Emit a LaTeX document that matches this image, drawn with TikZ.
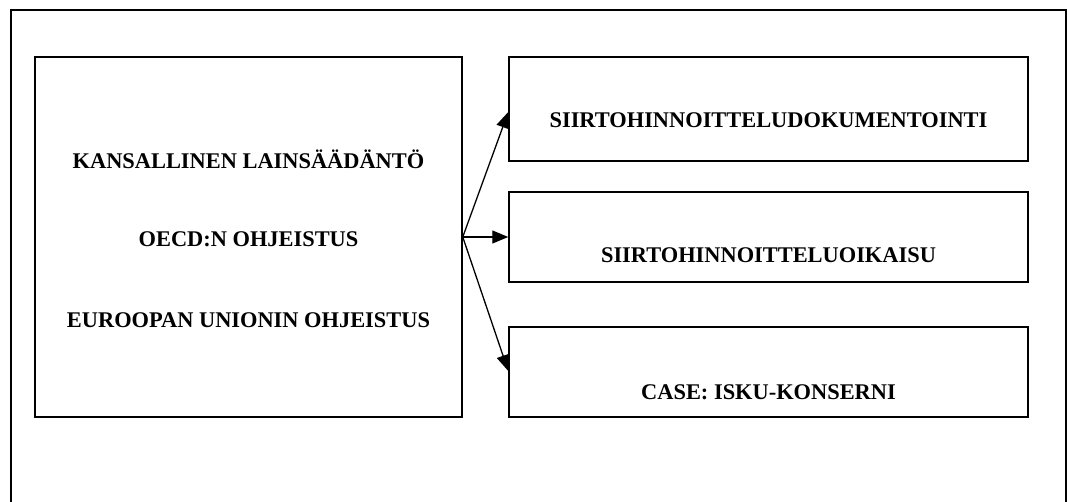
\documentclass[tikz,border=0pt]{standalone}
\usepackage{fontspec}
\setmainfont{Liberation Serif}
\usetikzlibrary{arrows.meta}
\tikzset{
  boxframe/.style={draw, line width=1.5pt, rectangle, inner sep=0pt},
  lbl/.style={anchor=base, inner sep=0pt, font=\fontsize{22.4}{27}\selectfont\bfseries},
  conn/.style={line width=1.3pt, -{Triangle[length=16pt,width=13pt]}},
}
\begin{document}
\begin{tikzpicture}[x=1pt,y=-1pt]
\useasboundingbox (0,0) rectangle (1067,502);
% outer frame (bottom edge lies outside the picture)
\draw[line width=1.5pt] (11,520) -- (11,10) -- (1066,10) -- (1066,520);
% boxes
\node[boxframe, minimum width=427pt, minimum height=360pt] (src) at (248.5,237) {};
\node[boxframe, minimum width=519pt, minimum height=104pt] (b1) at (768.5,109) {};
\node[boxframe, minimum width=519pt, minimum height=90pt] (b2) at (768.5,237) {};
\node[boxframe, minimum width=519pt, minimum height=90pt] (b3) at (768.5,372) {};
% labels
\node[lbl] (t1) at (248.5,169) {KANSALLINEN LAINSÄÄDÄNTÖ};
\node[lbl] (t2) at (248.5,247) {OECD:N OHJEISTUS};
\node[lbl] (t3) at (248.5,327) {EUROOPAN UNIONIN OHJEISTUS};
\node[lbl] (r1) at (768.5,128) {SIIRTOHINNOITTELUDOKUMENTOINTI};
\node[lbl] (r2) at (768.5,263) {SIIRTOHINNOITTELUOIKAISU};
\node[lbl] (r3) at (768.5,399) {CASE: ISKU-KONSERNI};
% connectors
\coordinate (o) at (src.east);
\draw[conn] (o) -- (b1.west |- 0,112);
\draw[conn] (o) -- (b2.west);
\draw[conn] (o) -- (b3.west |- 0,371);
\end{tikzpicture}
\end{document}
